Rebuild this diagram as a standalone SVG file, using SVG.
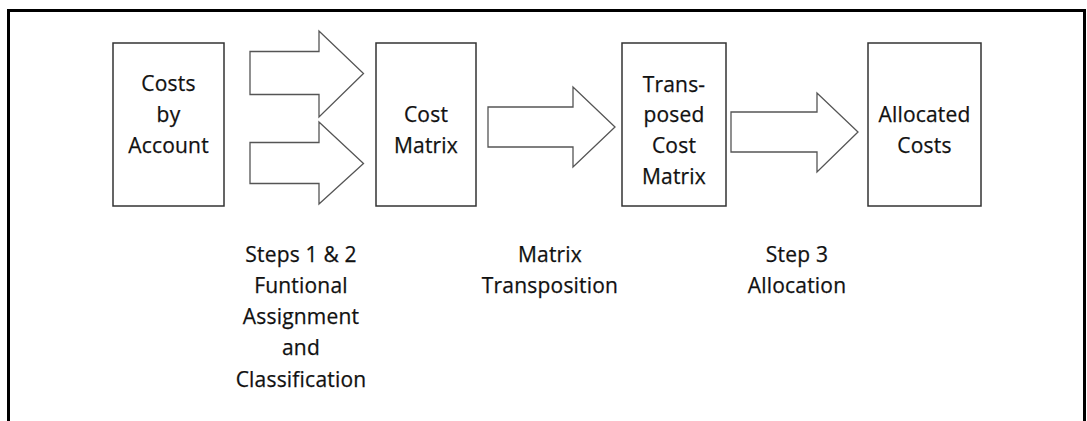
<svg xmlns="http://www.w3.org/2000/svg" width="1087" height="421" viewBox="0 0 1087 421">
<style>
.box{fill:#fff;stroke:#333;stroke-width:1.5}
.arr{fill:#fff;stroke:#555;stroke-width:1.3;stroke-linejoin:miter}
text{font-family:"Open Sans","Liberation Sans",sans-serif;font-size:21px;fill:#111;stroke:#111;stroke-width:0.25;text-anchor:middle;letter-spacing:0.2px}
</style>
<rect x="0" y="0" width="1087" height="421" fill="#fff"/>
<path d="M8.5 425 V10.5 H1084.5 V425" fill="none" stroke="#000" stroke-width="3"/>
<g id="connectors">
<polygon class="arr" points="250,51.5 319,51.5 319,31 363.5,73.5 319,117 319,94.5 250,94.5"/>
<polygon class="arr" points="250,142.5 319,142.5 319,122 363.5,163.5 319,204 319,183.5 250,183.5"/>
<polygon class="arr" points="488,107 573,107 573,87 615,127 573,167 573,147 488,147"/>
<polygon class="arr" points="731,112 817,112 817,93 858,132 817,172 817,152 731,152"/>
</g>
<g id="costs-by-account">
<rect class="box" x="113" y="43" width="111" height="163"/>
<text x="168.5" y="91">Costs</text>
<text x="168.5" y="122">by</text>
<text x="168.5" y="153">Account</text>
</g>
<g id="cost-matrix">
<rect class="box" x="376" y="43" width="100" height="163"/>
<text x="426" y="122">Cost</text>
<text x="426" y="153">Matrix</text>
</g>
<g id="transposed-cost-matrix">
<rect class="box" x="622" y="43" width="104" height="163"/>
<text x="674" y="92">Trans-</text>
<text x="674" y="122">posed</text>
<text x="674" y="153">Cost</text>
<text x="674" y="184">Matrix</text>
</g>
<g id="allocated-costs">
<rect class="box" x="868" y="43" width="113" height="163"/>
<text x="924.5" y="122">Allocated</text>
<text x="924.5" y="153">Costs</text>
</g>
<g id="label-steps">
<text x="301" y="262">Steps 1 &amp; 2</text>
<text x="301" y="293">Funtional</text>
<text x="301" y="324">Assignment</text>
<text x="301" y="355">and</text>
<text x="301" y="387">Classification</text>
</g>
<g id="label-transposition">
<text x="550" y="262">Matrix</text>
<text x="550" y="293">Transposition</text>
</g>
<g id="label-allocation">
<text x="797" y="262">Step 3</text>
<text x="797" y="293">Allocation</text>
</g>
</svg>
